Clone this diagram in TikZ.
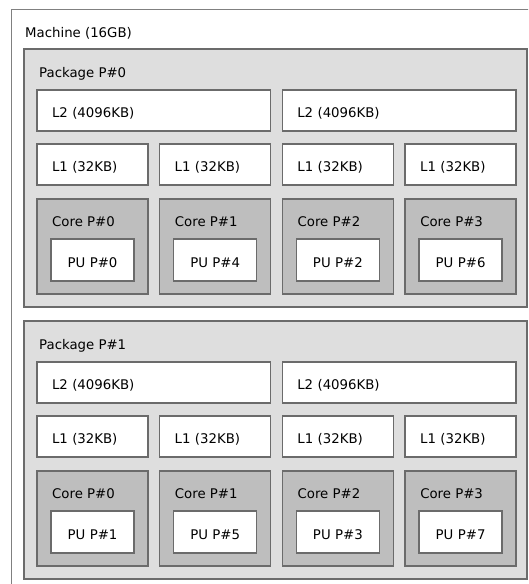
\documentclass[tikz,border=0pt]{standalone}
\usepackage{fontspec}
\setmainfont{DejaVu Sans}
\usetikzlibrary{positioning,calc}

\definecolor{frame}{gray}{0.42}
\definecolor{pkgfill}{HTML}{DEDEDE}
\definecolor{corefill}{HTML}{BEBEBE}

\begin{document}
\begin{tikzpicture}[
  x=1pt,y=-1pt,
  font=\fontsize{13.3}{16}\selectfont,
  machine/.style={draw=black!50,line width=0.9pt,fill=white,anchor=north west,
                  inner sep=0pt,outer sep=0pt,minimum width=540pt,minimum height=600pt},
  pkg/.style={draw=frame,line width=1.5pt,fill=pkgfill,anchor=north west,
              inner sep=0pt,outer sep=0pt,minimum width=503pt,minimum height=258pt},
  cache/.style={draw=frame,line width=1.5pt,fill=white,outer sep=0pt,
                inner xsep=15pt,inner ysep=0pt,text height=17pt,text depth=3pt,
                align=left,minimum height=41pt},
  l2/.style={cache,text width=203.6pt},
  l1/.style={cache,text width=81pt},
  core/.style={draw=frame,line width=1.5pt,fill=corefill,inner sep=0pt,outer sep=0pt,
               minimum width=111pt,minimum height=95pt},
  pu/.style={cache,align=center,text width=53pt,minimum height=42pt},
  lbl/.style={anchor=base west,inner sep=0pt}
]
\clip (0,0) rectangle (528,584);

% ---- machine ----
\node[machine] (mach) at (11,9) {};
\node[lbl] (macht) at ($(mach.north west)+(14,28)$) {Machine (16GB)};

% ---- package 0 ----
\node[pkg] (pkg0) at (24,49) {};
\node[lbl] (pkg0t) at ($(pkg0.north west)+(15,28)$) {Package P\#0};
\node[l2,anchor=north west] (p0l2a) at ($(pkg0.north west)+(13,41)$) {L2 (4096KB)};
\node[l2,right=11.7pt of p0l2a] (p0l2b) {L2 (4096KB)};
\node[l1,below=13pt of p0l2a.south west,anchor=north west] (p0l1a) {L1 (32KB)};
\node[l1,right=11.7pt of p0l1a] (p0l1b) {L1 (32KB)};
\node[l1,right=11.7pt of p0l1b] (p0l1c) {L1 (32KB)};
\node[l1,right=11.7pt of p0l1c] (p0l1d) {L1 (32KB)};
\node[core,below=14pt of p0l1a] (p0c0) {};
\node[core,below=14pt of p0l1b] (p0c1) {};
\node[core,below=14pt of p0l1c] (p0c2) {};
\node[core,below=14pt of p0l1d] (p0c3) {};
\node[lbl] (p0c0t) at ($(p0c0.north west)+(15,27)$) {Core P\#0};
\node[lbl] (p0c1t) at ($(p0c1.north west)+(15,27)$) {Core P\#1};
\node[lbl] (p0c2t) at ($(p0c2.north west)+(15,27)$) {Core P\#2};
\node[lbl] (p0c3t) at ($(p0c3.north west)+(15,27)$) {Core P\#3};
\node[pu,above=13pt of p0c0.south] (p0pu0) {PU P\#0};
\node[pu,above=13pt of p0c1.south] (p0pu1) {PU P\#4};
\node[pu,above=13pt of p0c2.south] (p0pu2) {PU P\#2};
\node[pu,above=13pt of p0c3.south] (p0pu3) {PU P\#6};

% ---- package 1 ----
\node[pkg,below=14pt of pkg0] (pkg1) {};
\node[lbl] (pkg1t) at ($(pkg1.north west)+(15,28)$) {Package P\#1};
\node[l2,anchor=north west] (p1l2a) at ($(pkg1.north west)+(13,41)$) {L2 (4096KB)};
\node[l2,right=11.7pt of p1l2a] (p1l2b) {L2 (4096KB)};
\node[l1,below=13pt of p1l2a.south west,anchor=north west] (p1l1a) {L1 (32KB)};
\node[l1,right=11.7pt of p1l1a] (p1l1b) {L1 (32KB)};
\node[l1,right=11.7pt of p1l1b] (p1l1c) {L1 (32KB)};
\node[l1,right=11.7pt of p1l1c] (p1l1d) {L1 (32KB)};
\node[core,below=14pt of p1l1a] (p1c0) {};
\node[core,below=14pt of p1l1b] (p1c1) {};
\node[core,below=14pt of p1l1c] (p1c2) {};
\node[core,below=14pt of p1l1d] (p1c3) {};
\node[lbl] (p1c0t) at ($(p1c0.north west)+(15,27)$) {Core P\#0};
\node[lbl] (p1c1t) at ($(p1c1.north west)+(15,27)$) {Core P\#1};
\node[lbl] (p1c2t) at ($(p1c2.north west)+(15,27)$) {Core P\#2};
\node[lbl] (p1c3t) at ($(p1c3.north west)+(15,27)$) {Core P\#3};
\node[pu,above=13pt of p1c0.south] (p1pu0) {PU P\#1};
\node[pu,above=13pt of p1c1.south] (p1pu1) {PU P\#5};
\node[pu,above=13pt of p1c2.south] (p1pu2) {PU P\#3};
\node[pu,above=13pt of p1c3.south] (p1pu3) {PU P\#7};

\end{tikzpicture}
\end{document}
